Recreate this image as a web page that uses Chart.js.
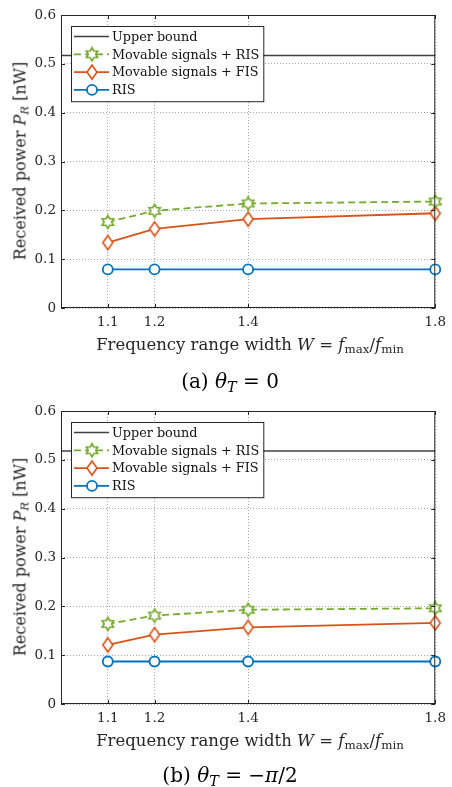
<!DOCTYPE html>
<html>
<head>
<meta charset="utf-8">
<script src="https://cdn.jsdelivr.net/npm/chart.js@4.4.0/dist/chart.umd.min.js"></script>
<style>
body{margin:0;background:#fff;width:452px;height:787px;position:relative;overflow:hidden;font-family:"DejaVu Serif",serif;color:#262626}
.panel{position:absolute;left:0;width:452px;height:360px}
.panel canvas{position:absolute;left:0;top:0}
.ytitle{position:absolute;left:20px;top:161px;transform:translate(-50%,-50%) rotate(-90deg);white-space:nowrap;font-size:16px}
.xtitle{position:absolute;left:250px;top:344px;transform:translate(-50%,-50%);white-space:nowrap;font-size:16.5px}
.cap{position:absolute;left:230px;transform:translate(-50%,-50%);white-space:nowrap;font-size:20px;color:#000}
sub{font-size:72%;vertical-align:-0.3em;line-height:0}
</style>
</head>
<body>
<div class="panel" style="top:0">
  <canvas id="chartA" width="452" height="360"></canvas>
  <div class="ytitle">Received power <i>P</i><sub><i>R</i></sub> [nW]</div>
  <div class="xtitle">Frequency range width <i>W</i> = <i>f</i><sub>max</sub>/<i>f</i><sub>min</sub></div>
</div>
<div class="cap" style="top:381px">(a) <i>&theta;</i><sub><i>T</i></sub> = 0</div>
<div class="panel" style="top:396px">
  <canvas id="chartB" width="452" height="360"></canvas>
  <div class="ytitle">Received power <i>P</i><sub><i>R</i></sub> [nW]</div>
  <div class="xtitle">Frequency range width <i>W</i> = <i>f</i><sub>max</sub>/<i>f</i><sub>min</sub></div>
</div>
<div class="cap" style="top:775px">(b) <i>&theta;</i><sub><i>T</i></sub> = &minus;<i>&pi;</i>/2</div>
<script>
// DATA
const widths = [1.1, 1.2, 1.4, 1.8];
const xRange = [1.0, 1.8];
const yTicks = [0, 0.1, 0.2, 0.3, 0.4, 0.5, 0.6];
const seriesNames = ['Upper bound', 'Movable signals + RIS', 'Movable signals + FIS', 'RIS'];

// (a) theta_T = 0
const upperA = 0.517;
const movRisA = [0.176, 0.199, 0.214, 0.218];
const movFisA = [0.134, 0.162, 0.182, 0.194];
const risA = [0.079, 0.079, 0.079, 0.079];

// (b) theta_T = -pi/2
const upperB = 0.518;
const movRisB = [0.164, 0.181, 0.193, 0.196];
const movFisB = [0.121, 0.142, 0.157, 0.166];
const risB = [0.087, 0.087, 0.087, 0.087];

const GREEN = '#77AC30', ORANGE = '#D95319', BLUE = '#0072BD', GRAY = '#404040';
const FONT = 'DejaVu Serif';

// custom markers
function hexagram(color) {
    const c = document.createElement('canvas');
    c.width = 16; c.height = 16;
    const g = c.getContext('2d');
    const R = 6.5, r = R / Math.sqrt(3);
    g.beginPath();
    for (let i = 0; i < 12; i++) {
        const a = -Math.PI / 2 + i * Math.PI / 6;
        const rr = i % 2 === 0 ? R : r;
        const px = 8 + rr * Math.cos(a), py = 8 + rr * Math.sin(a);
        i === 0 ? g.moveTo(px, py) : g.lineTo(px, py);
    }
    g.closePath();
    g.fillStyle = '#fff';
    g.fill();
    g.strokeStyle = color;
    g.lineWidth = 1.7;
    g.stroke();
    return c;
}
function diamond(color) {
    const c = document.createElement('canvas');
    c.width = 14; c.height = 18;
    const g = c.getContext('2d');
    g.beginPath();
    g.moveTo(7, 2); g.lineTo(12, 9); g.lineTo(7, 16); g.lineTo(2, 9);
    g.closePath();
    g.fillStyle = '#fff';
    g.fill();
    g.strokeStyle = color;
    g.lineWidth = 1.6;
    g.stroke();
    return c;
}
const hexMark = hexagram(GREEN);
const diaMark = diamond(ORANGE);

function pts(vals) {
    return widths.map((w, i) => ({ x: w, y: vals[i] }));
}

// box, inside ticks and legend
const framePlugin = {
    id: 'frame',
    afterDraw(chart) {
        const { ctx, chartArea: a, scales } = chart;
        ctx.save();
        ctx.strokeStyle = '#262626';
        ctx.lineWidth = 1;
        ctx.strokeRect(a.left + 0.5, a.top + 0.5, a.right - a.left - 1, a.bottom - a.top - 1);
        ctx.beginPath();
        widths.forEach(w => {
            const x = Math.round(scales.x.getPixelForValue(w)) + 0.5;
            ctx.moveTo(x, a.bottom); ctx.lineTo(x, a.bottom - 4);
            ctx.moveTo(x, a.top); ctx.lineTo(x, a.top + 4);
        });
        yTicks.forEach(v => {
            const y = Math.round(scales.y.getPixelForValue(v)) + 0.5;
            ctx.moveTo(a.left, y); ctx.lineTo(a.left + 4, y);
            ctx.moveTo(a.right, y); ctx.lineTo(a.right - 4, y);
        });
        ctx.stroke();

        // legend
        const ds = chart.data.datasets;
        ctx.font = '12.8px "' + FONT + '"';
        let tw = 0;
        ds.forEach(d => { tw = Math.max(tw, ctx.measureText(d.label).width); });
        const bx = a.left + 10, by = a.top + 11, rowH = 17.8;
        const bw = 40 + tw + 5, bh = rowH * ds.length + 4;
        ctx.fillStyle = '#fff';
        ctx.fillRect(bx, by, bw, bh);
        ctx.strokeStyle = '#262626';
        ctx.strokeRect(bx + 0.5, by + 0.5, bw, bh);
        ds.forEach((d, i) => {
            const y = by + 10.5 + i * rowH;
            ctx.strokeStyle = d.borderColor;
            ctx.lineWidth = d.borderWidth;
            ctx.setLineDash(d.borderDash || []);
            ctx.beginPath();
            ctx.moveTo(bx + 3, y); ctx.lineTo(bx + 38, y);
            ctx.stroke();
            ctx.setLineDash([]);
            const ps = d.pointStyle;
            if (ps instanceof HTMLCanvasElement) {
                ctx.drawImage(ps, bx + 21 - ps.width / 2, y - ps.height / 2);
            } else if (ps === 'circle') {
                ctx.beginPath();
                ctx.arc(bx + 21, y, d.pointRadius, 0, Math.PI * 2);
                ctx.fillStyle = '#fff';
                ctx.fill();
                ctx.lineWidth = d.pointBorderWidth;
                ctx.stroke();
            }
            ctx.fillStyle = '#111';
            ctx.textBaseline = 'middle';
            ctx.fillText(d.label, bx + 41, y + 1);
        });
        ctx.restore();
    }
};

function makeChart(id, upper, movRis, movFis, ris) {
    new Chart(document.getElementById(id), {
        type: 'line',
        data: {
            datasets: [
                { label: seriesNames[0], data: xRange.map(x => ({ x: x, y: upper })), borderColor: GRAY, borderWidth: 1.6, pointRadius: 0, pointStyle: false },
                { label: seriesNames[1], data: pts(movRis), borderColor: GREEN, borderWidth: 1.8, borderDash: [7, 4], pointStyle: hexMark, pointRadius: 7 },
                { label: seriesNames[2], data: pts(movFis), borderColor: ORANGE, borderWidth: 1.8, pointStyle: diaMark, pointRadius: 7 },
                { label: seriesNames[3], data: pts(ris), borderColor: BLUE, borderWidth: 1.8, pointStyle: 'circle', pointRadius: 5, pointBorderWidth: 1.8, pointBackgroundColor: '#fff' }
            ]
        },
        options: {
            responsive: false,
            animation: false,
            devicePixelRatio: 1,
            clip: false,
            layout: { padding: { top: 15, right: 11, left: 0, bottom: 0 } },
            plugins: { legend: { display: false }, tooltip: { enabled: false } },
            elements: { line: { tension: 0 } },
            scales: {
                x: {
                    type: 'linear', min: xRange[0], max: xRange[1],
                    afterBuildTicks: s => { s.ticks = widths.map(v => ({ value: v })); },
                    afterFit: s => { s.height = 52; },
                    ticks: { color: '#262626', padding: 6, maxRotation: 0, font: { family: FONT, size: 13.5 }, callback: v => v.toFixed(1) },
                    grid: { color: 'rgba(0,0,0,0.35)', drawTicks: false },
                    border: { display: false, dash: [1, 2] }
                },
                y: {
                    min: 0, max: 0.6,
                    afterBuildTicks: s => { s.ticks = yTicks.map(v => ({ value: v })); },
                    afterFit: s => { s.width = 61; },
                    ticks: { color: '#262626', padding: 5, font: { family: FONT, size: 13.5 }, callback: v => v === 0 ? '0' : v.toFixed(1) },
                    grid: { color: 'rgba(0,0,0,0.35)', drawTicks: false },
                    border: { display: false, dash: [1, 2] }
                }
            }
        },
        plugins: [framePlugin]
    });
}

makeChart('chartA', upperA, movRisA, movFisA, risA);
makeChart('chartB', upperB, movRisB, movFisB, risB);
</script>
</body>
</html>
